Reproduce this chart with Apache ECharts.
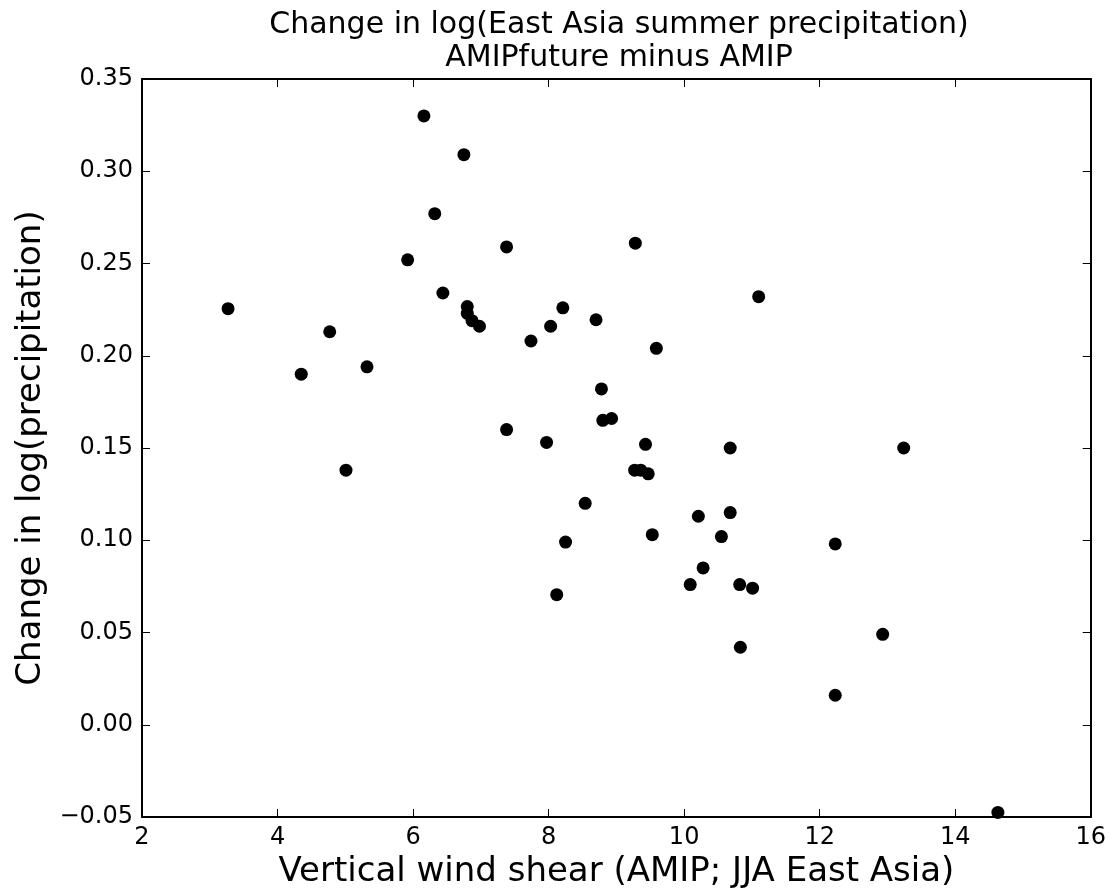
<!DOCTYPE html>
<html>
<head>
<meta charset="utf-8">
<title>Change in log(East Asia summer precipitation)</title>
<script src="https://cdn.jsdelivr.net/npm/echarts@6/dist/echarts.min.js"></script>
<style>
  html, body { margin: 0; padding: 0; background: #fff; }
  #box01 { width: 1109px; height: 894px; }
</style>
</head>
<body>
<div id="box01"></div>
<script>
// wind shear (x) and change in log precip (y), one point per model
var shear = [3.27, 4.35, 4.77, 5.01, 5.32, 5.92, 6.16, 6.32, 6.44, 6.75,
             6.80, 6.80, 6.87, 6.98, 7.38, 7.38, 7.74, 7.97, 8.03, 8.12,
             8.21, 8.25, 8.54, 8.70, 8.78, 8.80, 8.93, 9.27, 9.28, 9.36,
             9.43, 9.47, 9.53, 9.59, 10.09, 10.21, 10.28, 10.55, 10.68, 10.68,
             10.82, 10.83, 11.01, 11.10, 12.23, 12.23, 12.93, 13.24, 14.63];
var dPrecip = [0.2255, 0.190, 0.213, 0.138, 0.194, 0.252, 0.330, 0.277, 0.234, 0.309,
               0.2267, 0.223, 0.219, 0.216, 0.259, 0.160, 0.208, 0.153, 0.216, 0.0705,
               0.226, 0.099, 0.120, 0.2195, 0.182, 0.165, 0.166, 0.138, 0.261, 0.138,
               0.152, 0.136, 0.103, 0.204, 0.076, 0.113, 0.085, 0.102, 0.150, 0.115,
               0.076, 0.042, 0.074, 0.232, 0.098, 0.016, 0.049, 0.150, -0.0475];
var xTicks = [2, 4, 6, 8, 10, 12, 14, 16];
var yTicks = [-0.05, 0.00, 0.05, 0.10, 0.15, 0.20, 0.25, 0.30, 0.35];

var FONT = 'DejaVu Sans';

var myChart = echarts.init(document.getElementById('box01'));

var pts = [];
for (var i = 0; i < shear.length; i++) {
    pts.push([shear[i], dPrecip[i]]);
}

var lineStyle = {color: '#000', width: 2};
var tickStyle = {show: true, inside: true, length: 8, lineStyle: {color: '#000', width: 1}};

function yFmt(v) {
    return v.toFixed(2).replace('-', '\u2212');
}

var option = {
    animation: false,
    backgroundColor: '#fff',
    graphic: [
        {
            type: 'text', x: 619, y: 9,
            style: {
                text: 'Change in log(East Asia summer precipitation)\nAMIPfuture minus AMIP',
                font: '30px "' + FONT + '"', fill: '#000',
                align: 'center', verticalAlign: 'top', lineHeight: 33
            }
        }
    ],
    grid: {left: 142, top: 79, right: 15, bottom: 77, containLabel: false},
    xAxis: [
        {
            type: 'value', min: xTicks[0], max: xTicks[xTicks.length - 1], interval: 2,
            name: 'Vertical wind shear (AMIP; JJA East Asia)',
            nameLocation: 'middle', nameGap: 24,
            nameTextStyle: {fontFamily: FONT, fontSize: 34, color: '#000', verticalAlign: 'top'},
            axisLine: {show: true, onZero: false, lineStyle: lineStyle},
            axisTick: tickStyle,
            axisLabel: {fontFamily: FONT, fontSize: 24, color: '#000', margin: 9},
            splitLine: {show: false}
        },
        {
            type: 'value', position: 'top', min: xTicks[0], max: xTicks[xTicks.length - 1], interval: 2,
            axisLine: {show: true, onZero: false, lineStyle: lineStyle},
            axisTick: tickStyle,
            axisLabel: {show: false},
            splitLine: {show: false}
        }
    ],
    yAxis: [
        {
            type: 'value', min: yTicks[0], max: yTicks[yTicks.length - 1], interval: 0.05,
            name: 'Change in log(precipitation)',
            nameLocation: 'middle', nameGap: 90,
            nameTextStyle: {fontFamily: FONT, fontSize: 34, color: '#000'},
            axisLine: {show: true, onZero: false, lineStyle: lineStyle},
            axisTick: tickStyle,
            axisLabel: {fontFamily: FONT, fontSize: 24, color: '#000', margin: 9, formatter: yFmt},
            splitLine: {show: false}
        },
        {
            type: 'value', position: 'right', min: yTicks[0], max: yTicks[yTicks.length - 1], interval: 0.05,
            axisLine: {show: true, onZero: false, lineStyle: lineStyle},
            axisTick: tickStyle,
            axisLabel: {show: false},
            splitLine: {show: false}
        }
    ],
    series: [
        {
            type: 'scatter',
            xAxisIndex: 0, yAxisIndex: 0,
            data: pts,
            symbol: 'circle',
            symbolSize: 13,
            itemStyle: {color: '#000', opacity: 1}
        }
    ]
};

myChart.setOption(option);
</script>
</body>
</html>
